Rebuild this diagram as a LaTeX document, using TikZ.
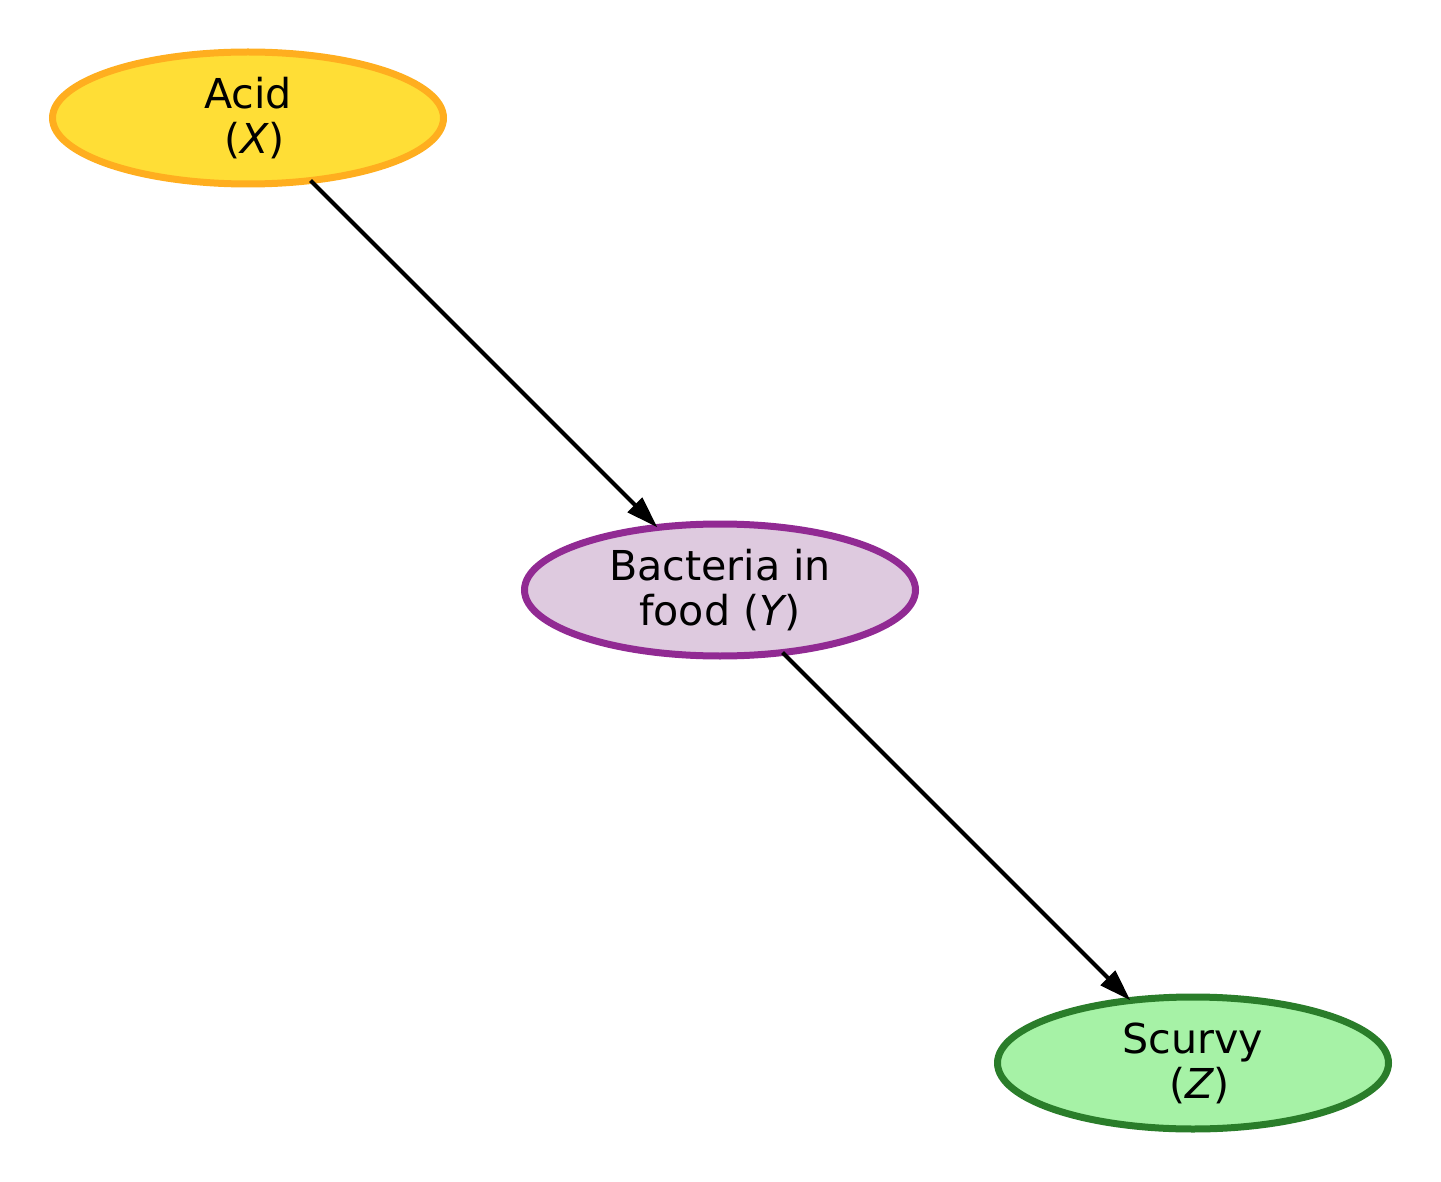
\documentclass[tikz,border=0pt]{standalone}
\usepackage{fontspec}
\setmainfont{DejaVu Sans}
\usetikzlibrary{shapes.geometric,arrows.meta}
\definecolor{acidfill}{HTML}{FFDE36}
\definecolor{aciddraw}{HTML}{FFAE1F}
\definecolor{bactfill}{HTML}{DECADF}
\definecolor{bactdraw}{HTML}{912A93}
\definecolor{scurfill}{HTML}{A6F2A6}
\definecolor{scurdraw}{HTML}{2A7D2A}
\newcommand{\itvar}[1]{{\itshape #1}}
\begin{document}
\begin{tikzpicture}[x=0.5pt,y=-0.5pt,
  var/.style={ellipse, minimum width=195.5pt, minimum height=66pt, inner sep=0pt, outer sep=0pt,
    line width=3.5pt, align=center, font=\fontsize{20.6pt}{22.5pt}\selectfont},
  edge/.style={line width=2pt, -{Triangle[length=16pt,width=10pt]}, shorten >=0pt}]
\useasboundingbox (0,0) rectangle (1441,1182);
\node[var, fill=acidfill, draw=aciddraw] (X) at (248,118) {Acid\\\hspace*{0.318em}(\itvar{X})};
\node[var, fill=bactfill, draw=bactdraw] (Y) at (720,590) {Bacteria in\\food (\itvar{Y})};
\node[var, fill=scurfill, draw=scurdraw] (Z) at (1193,1063) {Scurvy\\\hspace*{0.318em}(\itvar{Z})};
\draw[edge] (X) -- (Y);
\draw[edge] (Y) -- (Z);
\end{tikzpicture}
\end{document}
